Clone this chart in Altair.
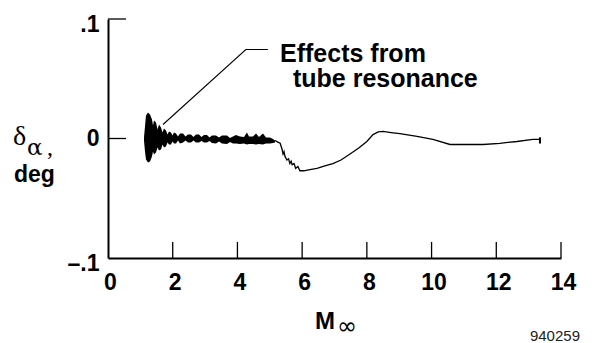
import altair as alt
import pandas as pd

# Tube-resonance region: upper / lower envelope of the fast oscillation
band_mach = [1.112, 1.143, 1.174, 1.236, 1.298, 1.360, 1.391, 1.421, 1.483, 1.530,
             1.576, 1.638, 1.684, 1.731, 1.792, 1.839, 1.885, 1.947, 1.993, 2.040,
             2.101, 2.163, 2.225, 2.318, 2.395, 2.472, 2.565, 2.642, 2.719, 2.812,
             2.889, 2.967, 3.059, 3.137, 3.214, 3.337, 3.430, 3.523, 3.677, 3.770,
             3.863, 3.956, 4.079, 4.203, 4.295, 4.357, 4.481, 4.574, 4.666, 4.790,
             4.883, 5.006, 5.099, 5.161]
band_upper = [0.0008, 0.0100, 0.0192, 0.0218, 0.0201, 0.0159, 0.0109, 0.0151, 0.0134, 0.0075,
              0.0117, 0.0092, 0.0050, 0.0084, 0.0067, 0.0033, 0.0059, 0.0050, 0.0025, 0.0050,
              0.0042, 0.0017, 0.0042, 0.0042, 0.0017, 0.0033, 0.0033, 0.0013, 0.0033, 0.0033,
              0.0013, 0.0029, 0.0029, 0.0008, 0.0025, 0.0025, 0.0008, 0.0025, 0.0025, 0.0004,
              0.0017, 0.0029, 0.0017, 0.0013, 0.0050, 0.0017, 0.0017, 0.0042, 0.0013, 0.0042,
              0.0008, 0.0008, -0.0004, -0.0017]
band_lower = [-0.0017, -0.0109, -0.0176, -0.0201, -0.0192, -0.0151, -0.0109, -0.0134, -0.0117, -0.0075,
              -0.0100, -0.0092, -0.0050, -0.0075, -0.0067, -0.0033, -0.0050, -0.0050, -0.0025, -0.0042,
              -0.0042, -0.0017, -0.0042, -0.0033, -0.0017, -0.0033, -0.0033, -0.0017, -0.0033, -0.0033,
              -0.0021, -0.0033, -0.0033, -0.0021, -0.0038, -0.0042, -0.0025, -0.0042, -0.0046, -0.0029,
              -0.0042, -0.0042, -0.0046, -0.0042, -0.0050, -0.0046, -0.0046, -0.0050, -0.0046, -0.0050,
              -0.0042, -0.0042, -0.0038, -0.0033]

# Deflection trace once the resonance has died out
trace_mach = [5.161, 5.25, 5.32, 5.38, 5.41, 5.44, 5.47, 5.53, 5.58, 5.62,
              5.66, 5.69, 5.75, 5.80, 5.87, 5.93, 6.05, 6.20, 6.46, 6.70,
              6.95, 7.20, 7.48, 7.75, 8.00, 8.19, 8.35, 8.50, 8.75, 9.02,
              9.55, 10.04, 10.57, 11.09, 11.59, 12.11, 12.64, 13.13, 13.35]
trace_delta = [-0.0017, -0.0030, -0.0040, -0.0090, -0.0130, -0.0110, -0.0150, -0.0180, -0.0170, -0.0210,
               -0.0190, -0.0220, -0.0210, -0.0250, -0.0235, -0.0270, -0.0270, -0.0262, -0.0250, -0.0230,
               -0.0210, -0.0180, -0.0130, -0.0080, -0.0025, 0.0033, 0.0055, 0.0060, 0.0050, 0.0040,
               0.0017, -0.0008, -0.0050, -0.0050, -0.0050, -0.0040, -0.0025, -0.0008, -0.0008]

# Short vertical stroke at the end of the record
end_mach = [13.35]
end_hi = [0.0010]
end_lo = [-0.0042]

# Leader line of the annotation
leader_mach = [1.70, 4.26, 4.94]
leader_delta = [0.0117, 0.0745, 0.0745]

x_ticks = [0, 2, 4, 6, 8, 10, 12, 14]
x_inner_ticks = [2, 4, 6, 8, 10, 12, 14]
y_ticks = [-0.1, 0.0, 0.1]
y_inner_ticks = [0.0, 0.1]

W, H = 453, 239
SANS = "Liberation Sans"
SERIF = "Liberation Serif"

xs = alt.Scale(domain=[0, 14], nice=False, zero=False)
ys = alt.Scale(domain=[-0.1, 0.1], nice=False, zero=False)

x_axis = alt.Axis(values=x_ticks, ticks=False, grid=False, domainColor="black",
                  domainWidth=2, labelFont=SANS, labelFontSize=23, labelFontWeight="bold",
                  labelColor="black", labelPadding=13, labelFlush=False,
                  labelOverlap=False, labelOffset=2, title=None)
y_axis = alt.Axis(values=y_ticks, ticks=False, grid=False, domainColor="black",
                  domainWidth=2, labelFont=SANS, labelFontSize=23, labelFontWeight="bold",
                  labelColor="black", labelPadding=9, labelOverlap=False,
                  labelExpr="datum.value == 0 ? '0' : (datum.value > 0 ? '.1' : '\u2013.1')",
                  labelOffset={"condition": {"test": "datum.value != 0", "value": 5}, "value": 0},
                  title=None)


def X(f):
    return alt.X(f, type="quantitative", scale=xs, axis=x_axis)


def Y(f):
    return alt.Y(f, type="quantitative", scale=ys, axis=y_axis)


band_df = pd.DataFrame({"m": band_mach, "hi": band_upper, "lo": band_lower})
trace_df = pd.DataFrame({"m": trace_mach, "d": trace_delta})
end_df = pd.DataFrame({"m": end_mach, "hi": end_hi, "lo": end_lo})
leader_df = pd.DataFrame({"m": leader_mach, "d": leader_delta})
xt_df = pd.DataFrame({"m": x_inner_ticks})
yt_df = pd.DataFrame({"d": y_inner_ticks})

band = alt.Chart(band_df).mark_area(color="black", opacity=1, strokeWidth=0).encode(
    x=X("m"), y=Y("hi"), y2="lo")
trace = alt.Chart(trace_df).mark_line(color="black", strokeWidth=1.3).encode(
    x=X("m"), y=Y("d"))
end_mark = alt.Chart(end_df).mark_rule(color="black", strokeWidth=2).encode(
    x=X("m"), y=Y("hi"), y2="lo")
leader = alt.Chart(leader_df).mark_line(color="black", strokeWidth=1.1).encode(
    x=X("m"), y=Y("d"))

x_tick_marks = alt.Chart(xt_df).mark_rule(color="black", strokeWidth=1.3).encode(
    x=X("m"), y=alt.value(H - 16), y2=alt.value(H))
y_tick_marks = alt.Chart(yt_df).mark_rule(color="black", strokeWidth=1.3).encode(
    y=Y("d"), x=alt.value(0), x2=alt.value(18))


def label(text, x, y, size, font=SANS, weight="bold", align="left", color="black"):
    return alt.Chart(pd.DataFrame({"t": [text]})).mark_text(
        font=font, fontSize=size, fontWeight=weight, align=align,
        baseline="alphabetic", color=color).encode(
        text="t:N", x=alt.value(x), y=alt.value(y))


texts = [
    label("Effects from", 172, 43, 25),
    label("tube resonance", 185, 68, 25),
    label("M", 217, 310, 24, align="center"),
    label("\u221e", 239, 315, 24, font="DejaVu Sans", weight="normal", align="center"),
    label("940259", 472, 322, 15, weight="normal", align="right", color="#222222"),
    label("\u03b4", -95, 126, 28, font=SERIF, weight="normal"),
    label("\u03b1", -81, 136, 23, font="DejaVu Serif", weight="normal"),
    label(",", -61, 136, 24, font=SERIF, weight="normal"),
    label("deg", -94, 163, 23),
]

chart = alt.layer(
    band, trace, end_mark, leader, x_tick_marks, y_tick_marks, *texts
).properties(
    width=W, height=H,
    autosize=alt.AutoSizeParams(type="none"),
    padding={"left": 108, "top": 19, "right": 41, "bottom": 85},
    background="white",
).configure_view(stroke=None)

chart.save("out.html", embed_options={"renderer": "svg", "actions": False})
